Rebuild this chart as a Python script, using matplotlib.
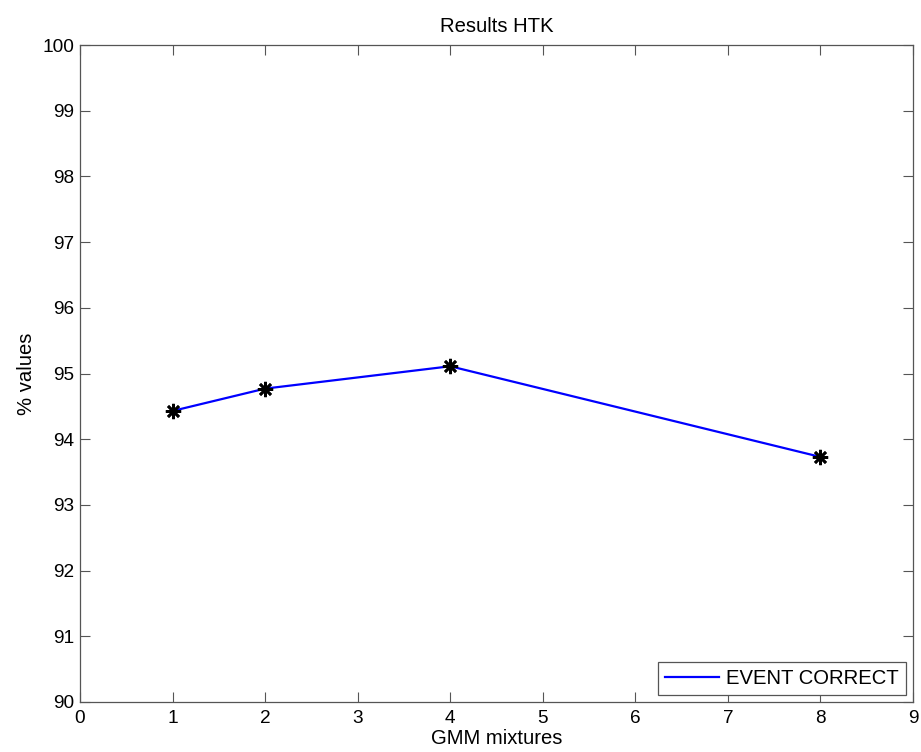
import matplotlib
matplotlib.use("Agg")
import matplotlib.pyplot as plt

plt.rcParams['font.family'] = ['Liberation Sans', 'DejaVu Sans']

mixtures = [1, 2, 4, 8]
event_correct = [94.43, 94.77, 95.11, 93.73]
xticks = list(range(0, 10))
yticks = list(range(90, 101))

fig = plt.figure(figsize=(9.21, 7.52), dpi=100)
ax = fig.add_axes([80/921, 50/752, 833/921, 657/752])

ax.plot(mixtures, event_correct, color=(0, 0, 1), linewidth=1.6, label='EVENT CORRECT', zorder=2)
ax.plot(mixtures, event_correct, linestyle='none', marker=(8, 2, 0), markersize=11,
        markeredgecolor='black', markeredgewidth=1.9, zorder=3)

ax.set_xlim(0, 9)
ax.set_ylim(90, 100)
ax.set_xticks(xticks)
ax.set_yticks(yticks)
ax.tick_params(direction='in', length=7, width=0.8, color='#555555', top=True, right=True,
               labelsize=13.7)
ax.tick_params(axis='x', pad=6)
ax.tick_params(axis='y', pad=4)
for s in ax.spines.values():
    s.set_color('#555555')
    s.set_linewidth(0.9)

ax.set_title('Results HTK', fontsize=14.6, pad=9)
ax.set_xlabel('GMM mixtures', fontsize=14.6, labelpad=1)
ax.set_ylabel('% values', fontsize=14.6, labelpad=5)

leg = ax.legend(loc='lower right', fontsize=14.6, handlelength=2.7, handletextpad=0.33,
                borderpad=0.35, borderaxespad=0.35, fancybox=False, framealpha=1)
leg.get_frame().set_edgecolor('#555555')
leg.get_frame().set_linewidth(0.9)

fig.savefig('out.png', dpi=100)
